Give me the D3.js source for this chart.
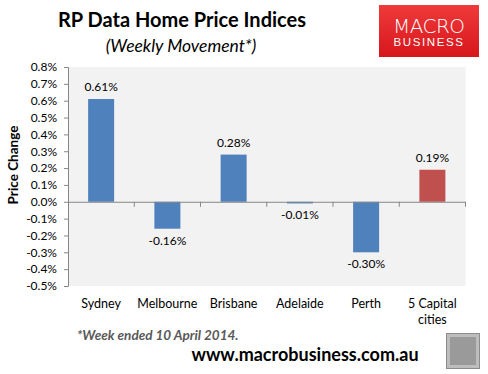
<!DOCTYPE html>
<html><head><meta charset="utf-8">
<script src="https://cdn.jsdelivr.net/npm/d3@7"></script>
<style>body{margin:0;background:#fff;}svg{display:block;}</style>
</head><body><svg id="c" width="488" height="374"></svg>
<script>
const categories = ["Sydney","Melbourne","Brisbane","Adelaide","Perth","5 Capital cities"];
const values = [0.61,-0.16,0.28,-0.01,-0.30,0.19];
const barColors = ["#4f81bd","#4f81bd","#4f81bd","#4f81bd","#4f81bd","#c0504d"];
const yTicks = [0.8,0.7,0.6,0.5,0.4,0.3,0.2,0.1,0,-0.1,-0.2,-0.3,-0.4,-0.5];

const svg = d3.select("#c");
const F = "Lato, 'Noto Sans', sans-serif";
const L = 68, R = 465.5, T = 67, B = 286;

const x = d3.scaleBand().domain(categories).range([L, R]);
const y = d3.scaleLinear().domain([-0.5, 0.8]).range([B, T]);

svg.append("rect").attr("x", L).attr("y", T).attr("width", R - L).attr("height", B - T).attr("fill", "#f2f2f2");

// bars
const bw = 26;
svg.selectAll("rect.bar").data(values).enter().append("rect")
  .attr("x", (d,i) => x(categories[i]) + x.bandwidth()/2 - bw/2)
  .attr("y", d => y(Math.max(0,d)))
  .attr("width", bw)
  .attr("height", d => Math.abs(y(d) - y(0)))
  .attr("fill", (d,i) => barColors[i]);

// value labels
svg.selectAll("text.val").data(values).enter().append("text")
  .attr("x", (d,i) => x(categories[i]) + x.bandwidth()/2)
  .attr("y", d => d >= 0 ? y(d) - 8 : y(d) + 16)
  .attr("text-anchor", "middle").attr("font-family", F).attr("font-size", 12).attr("fill", "#000")
  .text(d => d.toFixed(2) + "%");

// y axis
const yAxis = d3.axisLeft(y).tickValues(yTicks).tickSize(4).tickFormat(d => d.toFixed(1) + "%");
const ga = svg.append("g").attr("transform", `translate(${L},0)`).call(yAxis);
ga.select(".domain").attr("stroke", "#868686");
ga.selectAll(".tick line").attr("stroke", "#868686");
ga.selectAll(".tick text").attr("font-family", F).attr("font-size", 12).attr("fill", "#000").attr("x", -11);

// x axis at zero
const xAxis = d3.axisBottom(x).tickSize(0).tickFormat("");
const gx = svg.append("g").attr("transform", `translate(0,${y(0)})`).call(xAxis);
gx.select(".domain").attr("stroke", "#868686");
gx.selectAll(".tick").remove();
const bounds = categories.map(c => x(c) + x.bandwidth());
svg.selectAll("line.xt").data(bounds).enter().append("line")
  .attr("x1", d => d).attr("x2", d => d).attr("y1", y(0)).attr("y2", y(0) + 5).attr("stroke", "#868686");

// category labels
categories.forEach((c, i) => {
  const cx = x(c) + x.bandwidth()/2;
  const lines = c === "5 Capital cities" ? ["5 Capital","cities"] : [c];
  lines.forEach((t, j) => {
    svg.append("text").attr("x", cx).attr("y", 308 + j*16).attr("text-anchor","middle")
      .attr("font-family", F).attr("font-size", 12.5).attr("fill","#000").text(t);
  });
});

// y title
svg.append("text").attr("transform", "translate(18,165) rotate(-90)").attr("text-anchor","middle")
  .attr("font-family", F).attr("font-weight","bold").attr("font-size", 13.5).attr("fill","#000").text("Price Change");

// titles
svg.append("text").attr("x", 182).attr("y", 27).attr("text-anchor","middle").attr("font-family", F)
  .attr("font-weight","bold").attr("font-size", 20).attr("fill","#000").text("RP Data Home Price Indices");
svg.append("text").attr("x", 181).attr("y", 52).attr("text-anchor","middle").attr("font-family", F)
  .attr("font-style","italic").attr("font-size", 17.5).attr("fill","#000").text("(Weekly Movement*)");

// footnote
svg.append("text").attr("x", 77).attr("y", 340).attr("font-family", F).attr("font-style","italic")
  .attr("font-weight","bold").attr("font-size", 13.5).attr("fill","#595959").text("*Week ended 10 April 2014.");
svg.append("text").attr("x", 305).attr("y", 361).attr("text-anchor","middle").attr("font-family", F)
  .attr("font-weight","bold").attr("font-size", 18).attr("fill","#000").text("www.macrobusiness.com.au");

// logo
const defs = svg.append("defs");
const g1 = defs.append("linearGradient").attr("id","lg").attr("x1",0).attr("y1",0).attr("x2",0).attr("y2",1);
g1.append("stop").attr("offset","0%").attr("stop-color","#ef3a3a");
g1.append("stop").attr("offset","100%").attr("stop-color","#d7161c");
svg.append("rect").attr("x",379).attr("y",5).attr("width",100).attr("height",52).attr("fill","url(#lg)");
svg.append("text").attr("x",429).attr("y",32.5).attr("text-anchor","middle").attr("font-family","'DejaVu Sans', sans-serif")
  .attr("font-weight","300").attr("font-size",20).attr("fill","#fff").attr("textLength",72).text("MACRO");
svg.append("text").attr("x",429).attr("y",46).attr("text-anchor","middle").attr("font-family","'Liberation Sans', sans-serif")
  .attr("font-size",11.5).attr("fill","#fff").attr("letter-spacing",1.6).text("BUSINESS");

// wolf thumbnail placeholder
svg.append("rect").attr("x",446.5).attr("y",333.5).attr("width",33).attr("height",35).attr("fill","#bdbdbd").attr("stroke","#8c8c8c");
svg.append("rect").attr("x",450).attr("y",337).attr("width",26).attr("height",28).attr("fill","#9a9a9a");
</script></body></html>
